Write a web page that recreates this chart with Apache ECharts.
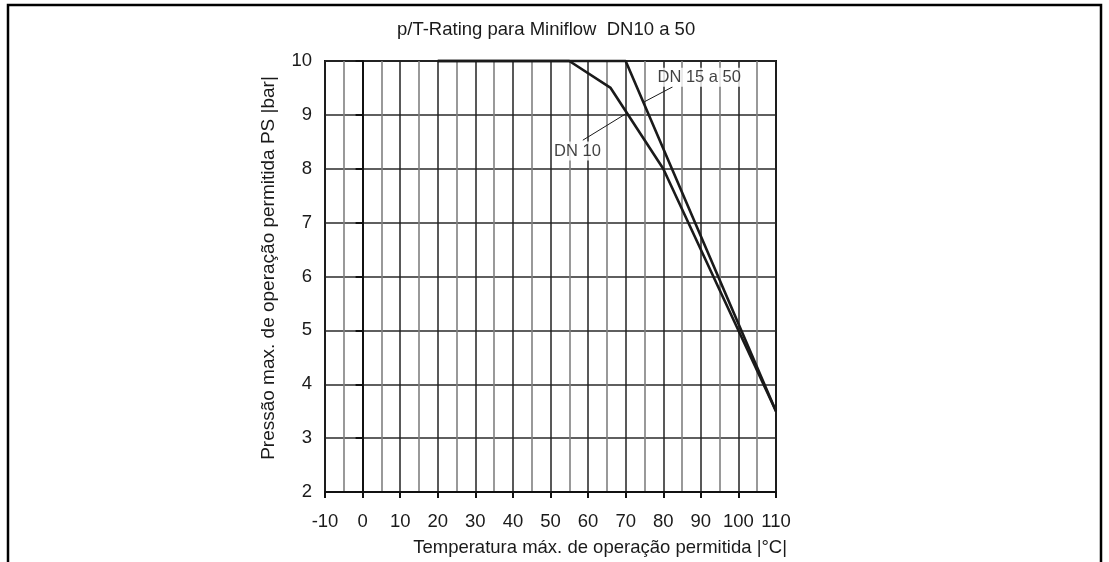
<!DOCTYPE html>
<html>
<head>
<meta charset="utf-8">
<script src="https://cdn.jsdelivr.net/npm/echarts@6/dist/echarts.min.js"></script>
<style>html,body{margin:0;padding:0;background:#fff;}#c{width:1109px;height:562px;}</style>
</head>
<body>
<div id="c"></div>
<script>
var titleText = 'p/T-Rating para Miniflow  DN10 a 50';
var xName = 'Temperatura máx. de operação permitida |°C|';
var yName = 'Pressão max. de operação permitida PS |bar|';
var xMin = -10, xMax = 110, xStep = 10;
var yMin = 2, yMax = 10, yStep = 1;
var dn10 = [[20, 10], [55, 10], [66, 9.5], [80, 8], [110, 3.5]];
var dn15 = [[20, 10], [70, 10], [110, 3.5]];
var leaderDn15 = [[74.9, 9.24], [82.5, 9.52]];
var leaderDn10 = [[58.6, 8.53], [69.8, 9.01]];
var labelDn15 = { text: 'DN 15 a 50', pos: [89.7, 9.69] };
var labelDn10 = { text: 'DN 10', pos: [57.3, 8.32] };

var font = 'Liberation Sans, Arial, sans-serif';
var chart = echarts.init(document.getElementById('c'), null, { renderer: 'canvas' });
function lineSeries(data, w) {
  return { type: 'line', data: data, symbol: 'none', clip: false, silent: true,
    lineStyle: { color: '#1a1a1a', width: w }, z: 5 };
}
function textSeries(lbl) {
  return { type: 'scatter', data: [lbl.pos], symbolSize: 1, silent: true, z: 6,
    itemStyle: { color: 'transparent' },
    label: { show: true, position: [0, 0], align: 'center', verticalAlign: 'middle',
      formatter: lbl.text, color: '#111', fontSize: 16.5, fontFamily: font,
      backgroundColor: '#fff', padding: [1, 1, 1, 1] } };
}
chart.setOption({
  animation: false,
  backgroundColor: '#fff',
  title: { text: titleText, left: 392, top: 15,
    textStyle: { fontSize: 18.5, fontWeight: 'normal', color: '#1a1a1a', fontFamily: font } },
  graphic: [{ type: 'rect', shape: { x: 8, y: 5, width: 1093, height: 640 },
    style: { fill: 'none', stroke: '#000', lineWidth: 2.5 }, silent: true }],
  grid: { left: 325, right: 333, top: 61, bottom: 70, show: true,
    borderColor: '#111', borderWidth: 2, backgroundColor: 'transparent' },
  xAxis: {
    type: 'value', min: xMin, max: xMax, interval: xStep,
    name: xName, nameLocation: 'end', nameGap: 11,
    nameTextStyle: { align: 'right', verticalAlign: 'top', padding: [46, 0, 0, 0],
      fontSize: 18.5, color: '#1a1a1a', fontFamily: font },
    axisLine: { show: true, onZero: false, lineStyle: { color: '#111', width: 2 } },
    axisTick: { show: true, length: 6, lineStyle: { color: '#111', width: 2 } },
    axisLabel: { fontSize: 18.5, color: '#1a1a1a', fontFamily: font, margin: 20 },
    splitLine: { show: true, lineStyle: { color: '#222', width: 1.5 } },
    minorTick: { show: false, splitNumber: 2 },
    minorSplitLine: { show: true, lineStyle: { color: '#808080', width: 1.6 } }
  },
  yAxis: {
    type: 'value', min: yMin, max: yMax, interval: yStep,
    name: yName, nameLocation: 'middle', nameGap: 47,
    nameTextStyle: { fontSize: 19, color: '#1a1a1a', fontFamily: font, padding: [0, 0, 0, 17] },
    axisLine: { show: true, lineStyle: { color: '#111', width: 2 } },
    axisTick: { show: true, length: 7, lineStyle: { color: '#111', width: 2 } },
    axisLabel: { fontSize: 18.5, color: '#1a1a1a', fontFamily: font, margin: 13 },
    splitLine: { show: true, lineStyle: { color: '#2a2a2a', width: 1.5 } }
  },
  series: [
    lineSeries(dn15, 2.6),
    lineSeries(dn10, 2.6),
    lineSeries(leaderDn15, 1),
    lineSeries(leaderDn10, 1),
    textSeries(labelDn15),
    textSeries(labelDn10)
  ]
});
</script>
</body>
</html>
